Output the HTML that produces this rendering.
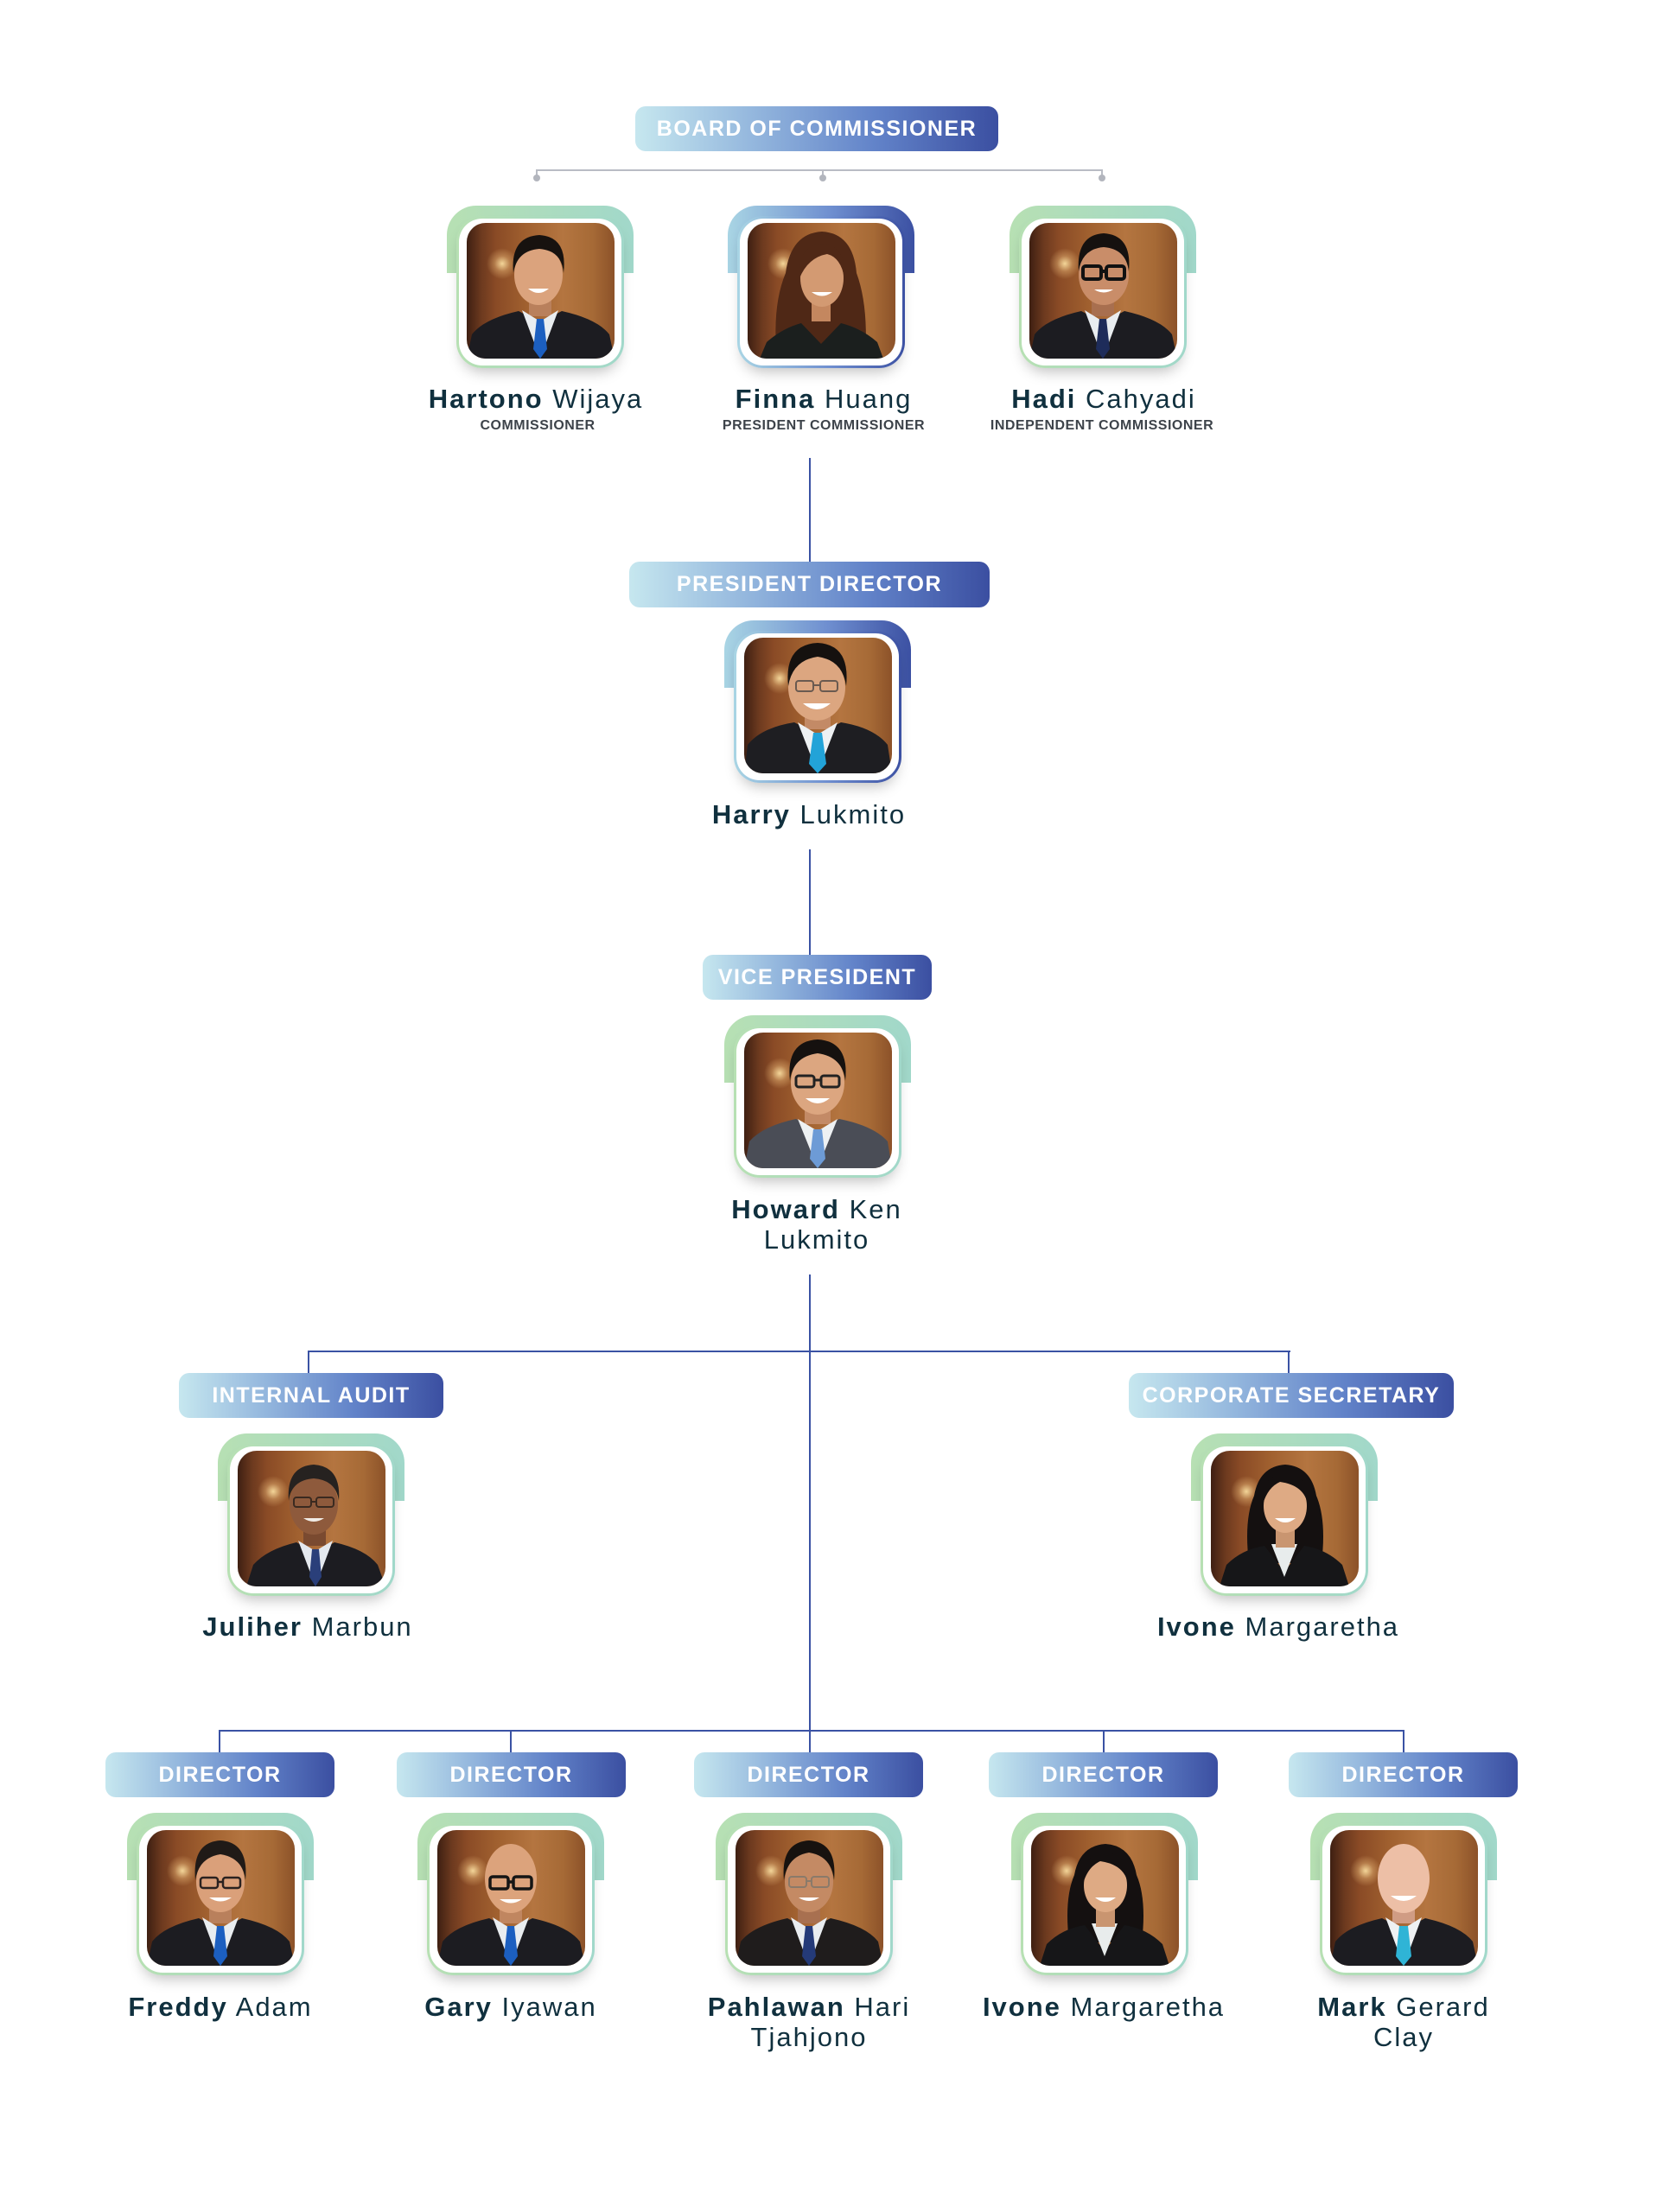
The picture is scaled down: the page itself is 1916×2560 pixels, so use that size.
<!DOCTYPE html>
<html>
<head>
<meta charset="utf-8">
<style>
html,body{margin:0;padding:0;background:#fff;}
#wrap{position:relative;width:1916px;height:2560px;overflow:hidden;background:#fff;font-family:"Liberation Sans",Arial,sans-serif;}
.lbl{position:absolute;height:52px;border-radius:12px;background:linear-gradient(90deg,#c6e7ef 0%,#93b6dd 33%,#6283c9 66%,#3b4fa1 100%);color:#fff;font:700 25px/52px "Liberation Sans",Arial,sans-serif;letter-spacing:1.5px;text-align:center;white-space:nowrap;}
.ln{position:absolute;background:#3a52a4;}
.gl{position:absolute;background:#b9bcc4;}
.dot{position:absolute;width:8px;height:8px;border-radius:50%;background:#b2b5bd;}
.fr{position:absolute;width:216px;height:192px;}
.tab{position:absolute;left:0;top:0;width:216px;height:78px;border-radius:34px 34px 0 0;background:linear-gradient(90deg,#b7e0b3,#a1d8ca);}
.card{position:absolute;left:11px;top:12px;width:194px;height:176px;border-radius:30px;background:linear-gradient(90deg,#b7e0b3,#a1d8ca);box-shadow:0 10px 16px -6px rgba(0,0,0,.25);}
.blue .tab,.blue .card{background:linear-gradient(90deg,#a9d5e4,#6f8fd0 55%,#3c51a3);}
.inner{position:absolute;left:3px;top:3px;right:3px;bottom:3px;border-radius:27px;background:#fff;}
.ph{position:absolute;left:12px;top:8px;width:171px;height:157px;border-radius:22px;overflow:hidden;
background:radial-gradient(circle at 24% 30%,rgba(255,228,165,.9) 0,rgba(255,210,140,.35) 9px,rgba(255,200,120,0) 18px),
linear-gradient(90deg,#3e1f12 0%,#6d3a1f 10%,#8a4b26 20%,#a0602f 40%,#b47540 65%,#a66a36 85%,#8c5229 100%);}
.ph svg{position:absolute;left:0;top:0;}
.nm{position:absolute;width:420px;text-align:center;font:400 31px/35px "Liberation Sans",Arial,sans-serif;letter-spacing:2px;color:#10303e;white-space:nowrap;}
.nm b{font-weight:700;}
.tt{position:absolute;width:420px;text-align:center;font:700 16px/20px "Liberation Sans",Arial,sans-serif;letter-spacing:.5px;color:#3d434a;white-space:nowrap;}
</style>
</head>
<body>
<div id="wrap">

<!-- ===== connectors ===== -->
<div class="gl" style="left:621px;top:196px;width:655px;height:2px;"></div>
<div class="gl" style="left:620px;top:196px;width:2px;height:8px;"></div>
<div class="gl" style="left:951px;top:196px;width:2px;height:8px;"></div>
<div class="gl" style="left:1274px;top:196px;width:2px;height:8px;"></div>
<div class="dot" style="left:617px;top:202px;"></div>
<div class="dot" style="left:948px;top:202px;"></div>
<div class="dot" style="left:1271px;top:202px;"></div>

<div class="ln" style="left:936px;top:530px;width:2px;height:121px;"></div>
<div class="ln" style="left:936px;top:983px;width:2px;height:123px;"></div>
<div class="ln" style="left:936px;top:1475px;width:2px;height:554px;"></div>
<div class="ln" style="left:356px;top:1563px;width:1137px;height:2px;"></div>
<div class="ln" style="left:356px;top:1563px;width:2px;height:27px;"></div>
<div class="ln" style="left:1490px;top:1563px;width:2px;height:27px;"></div>
<div class="ln" style="left:253px;top:2002px;width:1371px;height:2px;"></div>
<div class="ln" style="left:253px;top:2002px;width:2px;height:27px;"></div>
<div class="ln" style="left:590px;top:2002px;width:2px;height:27px;"></div>
<div class="ln" style="left:1276px;top:2002px;width:2px;height:27px;"></div>
<div class="ln" style="left:1623px;top:2002px;width:2px;height:27px;"></div>

<!-- ===== labels ===== -->
<div class="lbl" style="left:735px;top:123px;width:420px;">BOARD OF COMMISSIONER</div>
<div class="lbl" style="left:728px;top:650px;width:417px;height:53px;line-height:53px;">PRESIDENT DIRECTOR</div>
<div class="lbl" style="left:813px;top:1105px;width:265px;">VICE PRESIDENT</div>
<div class="lbl" style="left:207px;top:1589px;width:306px;">INTERNAL AUDIT</div>
<div class="lbl" style="left:1306px;top:1589px;width:376px;">CORPORATE SECRETARY</div>
<div class="lbl" style="left:122px;top:2028px;width:265px;">DIRECTOR</div>
<div class="lbl" style="left:459px;top:2028px;width:265px;">DIRECTOR</div>
<div class="lbl" style="left:803px;top:2028px;width:265px;">DIRECTOR</div>
<div class="lbl" style="left:1144px;top:2028px;width:265px;">DIRECTOR</div>
<div class="lbl" style="left:1491px;top:2028px;width:265px;">DIRECTOR</div>

<!-- ===== frames ===== -->
<!-- Hartono -->
<div class="fr" style="left:517px;top:238px;"><div class="tab"></div><div class="card"><div class="inner"></div><div class="ph">
<svg width="171" height="157" viewBox="0 0 171 157">
<path d="M0 157L6 129Q20 111 60 102L85 115L110 102Q151 111 165 129L171 157Z" fill="#1c1c21"/>
<rect x="72" y="82" width="26" height="26" fill="#b9805c"/>
<path d="M64 101L85 157L106 101L85 114Z" fill="#e9edf0"/>
<path d="M81 111H89L93 146L85 157L77 146Z" fill="#1c5fc0"/>
<ellipse cx="83" cy="60" rx="28" ry="35" fill="#dba37d"/>
<path d="M54 58Q50 16 84 14Q117 16 112 58Q110 32 84 30Q58 32 54 58Z" fill="#17120f"/>
<path d="M71 76Q83 86 95 76Z" fill="#fff"/>
</svg></div></div></div>

<!-- Finna -->
<div class="fr blue" style="left:842px;top:238px;"><div class="tab"></div><div class="card"><div class="inner"></div><div class="ph">
<svg width="171" height="157" viewBox="0 0 171 157">
<path d="M34 157Q28 96 44 58Q50 12 86 10Q122 12 126 58Q140 96 136 157Z" fill="#4f2816"/>
<path d="M14 157L22 138Q40 122 62 116L85 140L108 116Q132 122 150 138L157 157Z" fill="#1b1f1e"/>
<rect x="74" y="88" width="22" height="26" fill="#c4875f"/>
<ellipse cx="86" cy="64" rx="25" ry="33" fill="#d39a72"/>
<path d="M60 64Q58 26 86 24Q114 26 112 64Q108 40 92 36Q70 40 60 64Z" fill="#4f2816"/>
<path d="M74 80Q86 89 98 80Z" fill="#fff"/>
</svg></div></div></div>

<!-- Hadi -->
<div class="fr" style="left:1168px;top:238px;"><div class="tab"></div><div class="card"><div class="inner"></div><div class="ph">
<svg width="171" height="157" viewBox="0 0 171 157">
<path d="M0 157L6 129Q20 111 60 102L85 115L110 102Q151 111 165 129L171 157Z" fill="#1c1c21"/>
<rect x="72" y="82" width="26" height="26" fill="#a86f4f"/>
<path d="M64 101L85 157L106 101L85 114Z" fill="#e9edf0"/>
<path d="M81 111H89L93 146L85 157L77 146Z" fill="#1e2c5a"/>
<ellipse cx="86" cy="60" rx="29" ry="35" fill="#c98d69"/>
<path d="M57 56Q54 14 86 12Q119 14 115 56Q112 30 86 28Q61 30 57 56Z" fill="#15110f"/>
<g fill="none" stroke="#111" stroke-width="4"><rect x="62" y="50" width="21" height="15" rx="3"/><rect x="89" y="50" width="21" height="15" rx="3"/><path d="M83 56H89"/></g>
<path d="M75 77Q86 84 97 77Z" fill="#fff"/>
</svg></div></div></div>

<!-- Harry -->
<div class="fr blue" style="left:838px;top:718px;"><div class="tab"></div><div class="card"><div class="inner"></div><div class="ph">
<svg width="171" height="157" viewBox="0 0 171 157">
<path d="M0 157L4 124Q20 104 58 98L85 112L112 98Q150 104 166 124L171 157Z" fill="#1e1e22"/>
<rect x="70" y="80" width="30" height="26" fill="#c38a66"/>
<path d="M62 98L85 157L108 98L85 112Z" fill="#eef1f3"/>
<path d="M80 110H90L95 146L85 157L75 146Z" fill="#22a3d8"/>
<ellipse cx="84" cy="58" rx="33" ry="38" fill="#dca680"/>
<path d="M51 56Q46 8 85 6Q123 8 118 56Q114 26 85 22Q56 26 51 56Z" fill="#15110f"/>
<g fill="none" stroke="#6a5a50" stroke-width="2"><rect x="60" y="50" width="20" height="12" rx="3"/><rect x="88" y="50" width="20" height="12" rx="3"/><path d="M80 55H88"/></g>
<path d="M68 76Q84 90 100 76Z" fill="#fff"/>
</svg></div></div></div>

<!-- Howard -->
<div class="fr" style="left:838px;top:1175px;"><div class="tab"></div><div class="card"><div class="inner"></div><div class="ph">
<svg width="171" height="157" viewBox="0 0 171 157">
<path d="M0 157L6 126Q22 108 60 100L85 114L110 100Q150 108 166 126L171 157Z" fill="#4a4d56"/>
<rect x="70" y="80" width="30" height="26" fill="#c38a66"/>
<path d="M62 100L85 157L108 100L85 114Z" fill="#eef1f3"/>
<path d="M80 112H90L94 146L85 157L76 146Z" fill="#6d9bd6"/>
<ellipse cx="85" cy="58" rx="31" ry="37" fill="#dca680"/>
<path d="M53 56Q48 10 85 8Q122 10 117 56Q114 28 85 24Q56 28 53 56Z" fill="#15110f"/>
<g fill="none" stroke="#222" stroke-width="3"><rect x="60" y="50" width="21" height="13" rx="3"/><rect x="89" y="50" width="21" height="13" rx="3"/><path d="M81 55H89"/></g>
<path d="M71 76Q85 88 99 76Z" fill="#fff"/>
</svg></div></div></div>

<!-- Juliher -->
<div class="fr" style="left:252px;top:1659px;"><div class="tab"></div><div class="card"><div class="inner"></div><div class="ph">
<svg width="171" height="157" viewBox="0 0 171 157">
<path d="M10 157L18 132Q34 114 68 106L90 118L112 106Q148 114 162 132L171 157Z" fill="#1c1c21"/>
<rect x="76" y="84" width="26" height="26" fill="#7a4a30"/>
<path d="M70 104L90 157L110 104L90 116Z" fill="#e4e8ee"/>
<path d="M86 114H94L97 146L90 157L83 146Z" fill="#2a3f7a"/>
<ellipse cx="88" cy="62" rx="28" ry="35" fill="#8e5a3c"/>
<path d="M59 58Q56 18 88 16Q120 18 117 58Q114 34 88 32Q62 34 59 58Z" fill="#262220"/>
<g fill="none" stroke="#3a2a20" stroke-width="2"><rect x="65" y="54" width="20" height="11" rx="3"/><rect x="91" y="54" width="20" height="11" rx="3"/><path d="M85 59H91"/></g>
<path d="M76 78Q88 86 100 78Z" fill="#f1ece6"/>
</svg></div></div></div>

<!-- Ivone (corporate secretary) -->
<div class="fr" style="left:1378px;top:1659px;"><div class="tab"></div><div class="card"><div class="inner"></div><div class="ph">
<svg width="171" height="157" viewBox="0 0 171 157">
<path d="M44 130Q38 80 50 52Q56 18 86 16Q116 18 122 52Q134 80 128 130Z" fill="#141010"/>
<path d="M10 157L18 132Q36 114 62 110L85 140L108 110Q134 114 152 132L160 157Z" fill="#161618"/>
<path d="M70 108L85 146L100 108Z" fill="#e8ecec"/>
<rect x="75" y="88" width="22" height="24" fill="#c99570"/>
<ellipse cx="86" cy="64" rx="25" ry="31" fill="#deaa84"/>
<path d="M60 62Q58 28 86 26Q114 28 112 62Q108 40 80 36Q66 42 60 62Z" fill="#141010"/>
<path d="M74 78Q86 88 98 78Z" fill="#fff"/>
</svg></div></div></div>

<!-- Freddy -->
<div class="fr" style="left:147px;top:2098px;"><div class="tab"></div><div class="card"><div class="inner"></div><div class="ph">
<svg width="171" height="157" viewBox="0 0 171 157">
<path d="M0 157L6 129Q20 111 60 102L85 115L110 102Q151 111 165 129L171 157Z" fill="#1c1c21"/>
<rect x="72" y="82" width="26" height="26" fill="#b9805c"/>
<path d="M64 101L85 157L106 101L85 114Z" fill="#e9edf0"/>
<path d="M81 111H89L93 146L85 157L77 146Z" fill="#1c5fc0"/>
<ellipse cx="85" cy="60" rx="28" ry="35" fill="#daa07a"/>
<path d="M56 58Q52 14 85 12Q118 14 114 58Q111 32 85 28Q60 32 56 58Z" fill="#201a17"/>
<g fill="none" stroke="#2a2220" stroke-width="2.5"><rect x="62" y="55" width="20" height="12" rx="3"/><rect x="88" y="55" width="20" height="12" rx="3"/><path d="M82 60H88"/></g>
<path d="M72 78Q85 87 98 78Z" fill="#fff"/>
</svg></div></div></div>

<!-- Gary -->
<div class="fr" style="left:483px;top:2098px;"><div class="tab"></div><div class="card"><div class="inner"></div><div class="ph">
<svg width="171" height="157" viewBox="0 0 171 157">
<path d="M0 157L6 129Q20 111 60 102L85 115L110 102Q151 111 165 129L171 157Z" fill="#1c1c21"/>
<rect x="72" y="82" width="26" height="26" fill="#c08660"/>
<path d="M64 101L85 157L106 101L85 114Z" fill="#e9edf0"/>
<path d="M81 111H89L93 146L85 157L77 146Z" fill="#1c5fc0"/>
<ellipse cx="85" cy="56" rx="30" ry="40" fill="#dca37c"/>
<g fill="none" stroke="#151515" stroke-width="3.5"><rect x="61" y="54" width="21" height="14" rx="3"/><rect x="88" y="54" width="21" height="14" rx="3"/><path d="M82 60H88"/></g>
<path d="M72 80Q85 89 98 80Z" fill="#fff"/>
</svg></div></div></div>

<!-- Pahlawan -->
<div class="fr" style="left:828px;top:2098px;"><div class="tab"></div><div class="card"><div class="inner"></div><div class="ph">
<svg width="171" height="157" viewBox="0 0 171 157">
<path d="M0 157L6 129Q20 111 60 102L85 115L110 102Q151 111 165 129L171 157Z" fill="#1f1c1c"/>
<rect x="72" y="82" width="26" height="26" fill="#a87050"/>
<path d="M64 101L85 157L106 101L85 114Z" fill="#e9edf0"/>
<path d="M81 111H89L93 146L85 157L77 146Z" fill="#243a78"/>
<ellipse cx="85" cy="60" rx="28" ry="35" fill="#c48a64"/>
<path d="M56 58Q52 14 85 12Q118 14 114 58Q111 30 85 26Q60 30 56 58Z" fill="#17120f"/>
<g fill="none" stroke="#8a7a6a" stroke-width="2"><rect x="62" y="54" width="20" height="12" rx="3"/><rect x="88" y="54" width="20" height="12" rx="3"/><path d="M82 59H88"/></g>
<path d="M73 78Q85 86 97 78Z" fill="#fff"/>
</svg></div></div></div>

<!-- Ivone (director) -->
<div class="fr" style="left:1170px;top:2098px;"><div class="tab"></div><div class="card"><div class="inner"></div><div class="ph">
<svg width="171" height="157" viewBox="0 0 171 157">
<path d="M44 130Q38 80 50 52Q56 18 86 16Q116 18 122 52Q134 80 128 130Z" fill="#141010"/>
<path d="M10 157L18 132Q36 114 62 110L85 140L108 110Q134 114 152 132L160 157Z" fill="#161618"/>
<path d="M70 108L85 146L100 108Z" fill="#e8ecec"/>
<rect x="75" y="88" width="22" height="24" fill="#c99570"/>
<ellipse cx="86" cy="64" rx="25" ry="31" fill="#deaa84"/>
<path d="M60 62Q58 28 86 26Q114 28 112 62Q108 40 80 36Q66 42 60 62Z" fill="#141010"/>
<path d="M74 78Q86 88 98 78Z" fill="#fff"/>
</svg></div></div></div>

<!-- Mark -->
<div class="fr" style="left:1516px;top:2098px;"><div class="tab"></div><div class="card"><div class="inner"></div><div class="ph">
<svg width="171" height="157" viewBox="0 0 171 157">
<path d="M0 157L6 129Q20 111 60 102L85 115L110 102Q151 111 165 129L171 157Z" fill="#1c1c21"/>
<rect x="72" y="82" width="26" height="26" fill="#d09c84"/>
<path d="M64 101L85 157L106 101L85 114Z" fill="#eef1f3"/>
<path d="M80 111H90L94 146L85 157L76 146Z" fill="#2fb4d6"/>
<ellipse cx="85" cy="56" rx="30" ry="40" fill="#edbfa6"/>
<path d="M70 76Q85 88 100 76Z" fill="#fff"/>
</svg></div></div></div>

<!-- ===== names ===== -->
<div class="nm" style="left:410px;top:444px;"><b>Hartono</b> Wijaya</div>
<div class="tt" style="left:412px;top:483px;">COMMISSIONER</div>
<div class="nm" style="left:743px;top:444px;"><b>Finna</b> Huang</div>
<div class="tt" style="left:743px;top:483px;">PRESIDENT COMMISSIONER</div>
<div class="nm" style="left:1067px;top:444px;"><b>Hadi</b> Cahyadi</div>
<div class="tt" style="left:1065px;top:483px;">INDEPENDENT COMMISSIONER</div>

<div class="nm" style="left:726px;top:925px;"><b>Harry</b> Lukmito</div>
<div class="nm" style="left:735px;top:1382px;"><b>Howard</b> Ken<br>Lukmito</div>
<div class="nm" style="left:146px;top:1865px;"><b>Juliher</b> Marbun</div>
<div class="nm" style="left:1269px;top:1865px;"><b>Ivone</b> Margaretha</div>

<div class="nm" style="left:45px;top:2305px;"><b>Freddy</b> Adam</div>
<div class="nm" style="left:381px;top:2305px;"><b>Gary</b> Iyawan</div>
<div class="nm" style="left:726px;top:2305px;"><b>Pahlawan</b> Hari<br>Tjahjono</div>
<div class="nm" style="left:1067px;top:2305px;"><b>Ivone</b> Margaretha</div>
<div class="nm" style="left:1414px;top:2305px;"><b>Mark</b> Gerard<br>Clay</div>

</div>
</body>
</html>
